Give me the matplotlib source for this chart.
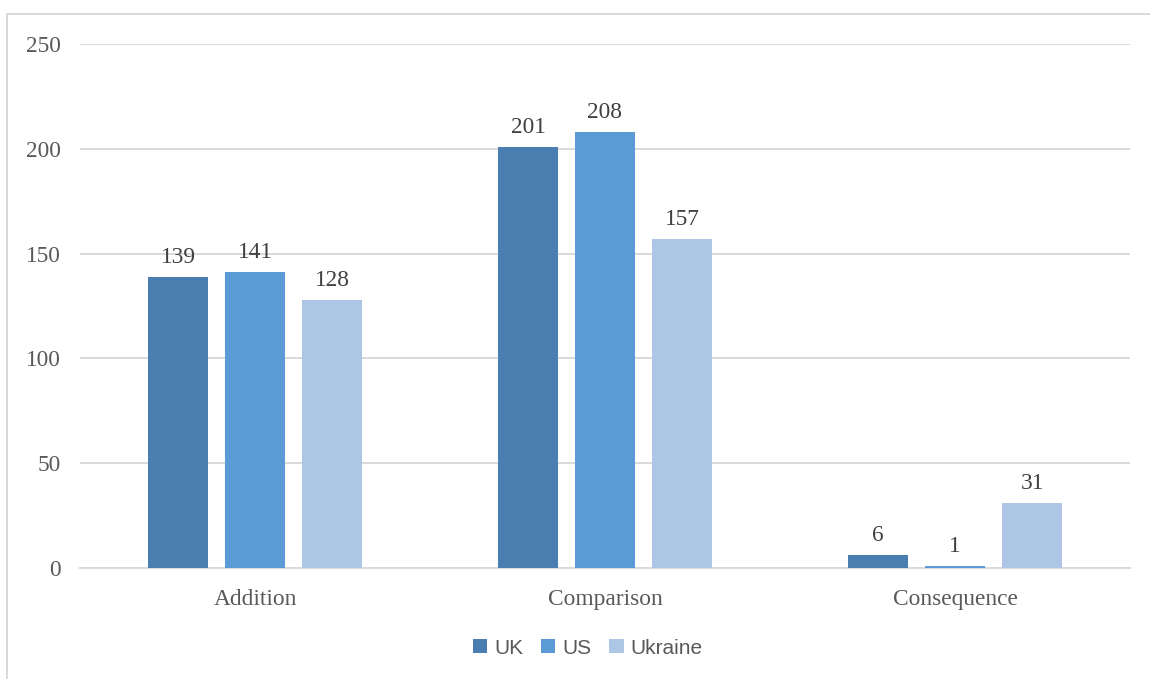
import numpy as np
import matplotlib.pyplot as plt
from matplotlib.lines import Line2D

# Dados
categorias = ['Addition', 'Comparison', 'Consequence']
uk = [139, 201, 6]
us = [141, 208, 1]
ukraine = [128, 157, 31]
series = ['UK', 'US', 'Ukraine']
cores = ['#4A7EB0', '#5B9BD5', '#ADC6E5']

fig = plt.figure(figsize=(11.5, 6.79), dpi=100)
ax = fig.add_axes([80 / 1150, 1 - 568 / 679, 1050 / 1150, 524 / 679])

x = np.arange(len(categorias))
largura = 0.174
passo = 0.22
for i, (nome, vals, cor) in enumerate(zip(series, [uk, us, ukraine], cores)):
    b = ax.bar(x + (i - 1) * passo, vals, largura, color=cor, label=nome, zorder=3)
    ax.bar_label(b, padding=6.5, fontsize=16.8, family='Liberation Serif', color='#404040')

ax.set_xlim(-0.5, 2.5)
ax.set_ylim(0, 250)
ax.set_yticks(range(0, 251, 50))
ax.set_xticks(x)
ax.set_xticklabels(categorias)
ax.grid(axis='y', color='#D9D9D9', linewidth=1.4, zorder=0)
for lado in ['top', 'right', 'left']:
    ax.spines[lado].set_visible(False)
ax.spines['bottom'].set_color('#D9D9D9')
ax.spines['bottom'].set_linewidth(1.4)
ax.tick_params(axis='both', length=0, colors='#595959', labelsize=16.8)
ax.tick_params(axis='y', pad=14)
ax.tick_params(axis='x', pad=15)
for t in ax.get_xticklabels() + ax.get_yticklabels():
    t.set_family('Liberation Serif')

leg = ax.legend(loc='center', bbox_to_anchor=(588 / 1150, 1 - 648 / 679),
                bbox_transform=fig.transFigure, ncol=3, frameon=False,
                prop={'family': 'Liberation Sans', 'size': 15},
                handlelength=0.68, handleheight=0.68, handletextpad=0.34,
                columnspacing=0.85, labelcolor='#595959')

# moldura
fig.add_artist(Line2D([7 / 1150, 7 / 1150], [0, 1 - 14 / 679],
                      transform=fig.transFigure, color='#D9D9D9', lw=1.4))
fig.add_artist(Line2D([7 / 1150, 1], [1 - 14 / 679, 1 - 14 / 679],
                      transform=fig.transFigure, color='#D9D9D9', lw=1.4))

fig.savefig('out.png', dpi=100)
